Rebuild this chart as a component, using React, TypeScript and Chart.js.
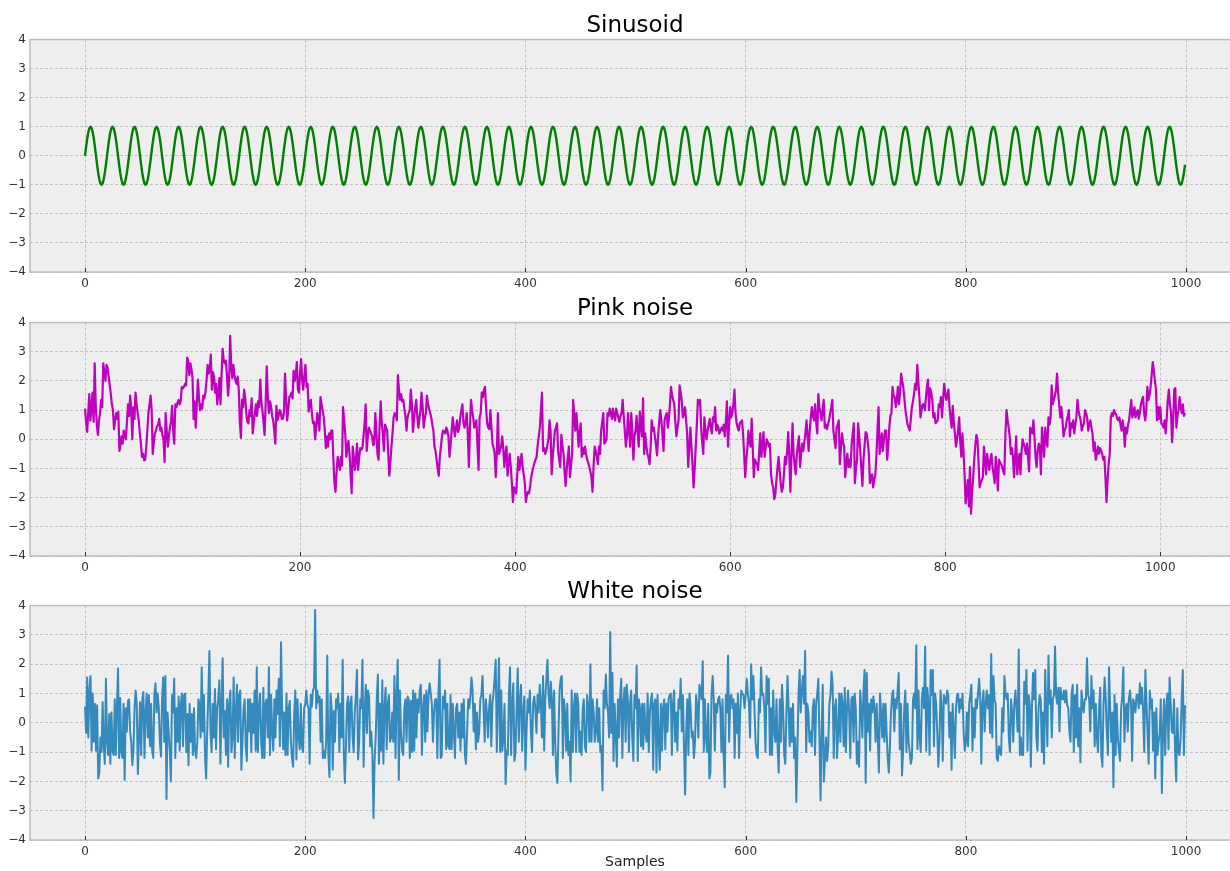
import React, { useEffect, useRef } from "react";
import { Chart, registerables } from "chart.js";

Chart.register(...registerables);

// ---------------- data ----------------
// one period (20 samples) of the sinusoid, repeated over 1000 samples
const sineCycle = [0, 0.309, 0.588, 0.809, 0.951, 1, 0.951, 0.809, 0.588, 0.309, 0, -0.309, -0.588, -0.809, -0.951, -1, -0.951, -0.809, -0.588, -0.309];
const sineCycleCount = 50;

const pinkNoise = [
  1.05,0.6,0.25,0.9,1.55,0.65,1.1,1.6,0.6,2.6,1.15,0.5,0.15,0.65,0.9,1.35,1.1,2.6,2.3,2.0,
  2.55,2.45,2.15,1.85,1.55,1.2,1.0,0.35,0.65,0.9,0.7,0.95,-0.4,-0.2,0.1,-0.15,0.3,0.1,0.0,0.6,
  1.2,0.8,1.5,1.0,0.0,1.1,0.7,1.6,1.2,0.9,0.65,0.2,-0.15,-0.6,-0.5,-0.72,-0.7,-0.25,0.3,0.9,
  1.2,1.5,1.0,-0.5,-0.1,0.2,0.3,0.45,0.5,0.7,0.3,0.4,0.15,0.0,-0.78,0.9,0.3,-0.25,0.1,0.4,
  0.6,1.15,0.3,-0.15,1.2,1.1,1.25,1.35,1.2,1.3,1.8,1.75,1.8,1.9,1.85,2.8,2.7,2.2,2.6,2.4,
  2.1,0.7,1.3,0.4,1.2,2.05,1.45,1.0,1.2,1.05,1.5,1.4,1.6,2.0,2.55,2.25,2.4,2.9,1.7,2.3,
  2.15,1.6,1.9,1.2,1.6,2.1,1.2,2.2,3.1,2.7,2.6,2.7,2.2,1.5,1.9,3.55,2.5,2.1,2.55,2.2,
  2.0,1.9,2.15,1.7,0.6,0.05,1.35,1.1,1.7,1.4,0.9,0.6,0.55,1.0,0.8,1.4,0.2,0.6,0.9,1.2,
  0.8,1.3,1.1,2.05,1.3,1.0,0.6,0.15,1.2,2.5,1.5,0.9,1.3,1.15,0.8,0.65,0.3,-0.15,1.15,0.65,
  0.8,1.0,0.95,0.7,0.7,0.9,2.25,1.4,0.65,1.0,1.45,1.5,1.6,1.4,2.35,2.0,2.2,2.65,1.7,1.6,
  2.3,2.75,2.0,1.7,2.2,2.55,1.8,1.9,0.95,1.2,1.35,0.9,0.55,0.6,0.0,0.4,0.9,0.65,0.3,1.45,
  1.2,1.0,0.75,0.3,-0.3,0.1,-0.25,0.2,0.0,0.3,0.3,-0.7,-1.5,-1.8,-1.1,-0.6,-0.8,-1.05,-0.6,-0.9,
  1.1,0.65,0.2,-0.6,-0.3,-0.05,-0.5,-1.2,-1.85,-0.25,-0.6,-1.05,-0.7,-0.15,-1.05,-0.6,-0.3,-0.35,-0.3,0.1,
  0.5,1.2,-0.4,0.1,0.4,0.3,0.2,0.1,-0.2,-0.15,0.9,0.3,-0.5,-0.7,0.5,1.3,0.55,0.2,-0.4,0.5,
  0.4,0.3,-0.5,-1.25,-0.8,-0.25,0.2,0.75,0.9,0.85,0.65,2.2,1.7,1.35,1.55,1.3,1.35,1.05,0.8,0.3,
  0.75,0.9,1.0,1.7,1.2,0.25,0.7,1.05,1.35,0.8,0.4,0.7,1.0,1.6,1.1,0.4,0.7,0.9,1.5,1.2,
  1.05,0.9,0.75,0.5,0.3,-0.25,-0.4,-0.7,-1.0,-1.25,-0.6,-0.25,0.1,0.3,0.25,0.2,0.4,0.3,0.1,-0.6,
  -0.2,0.3,0.75,0.4,0.1,0.4,0.65,0.25,0.4,0.75,1.0,1.2,0.55,0.4,0.6,0.9,0.2,-0.95,0.4,1.35,
  1.0,0.75,0.4,0.5,0.65,-0.2,-1.05,0.75,0.9,1.6,1.45,1.7,1.8,1.1,0.55,0.4,0.35,1.0,0.4,-0.15,
  -0.3,-0.5,-1.3,-0.4,0.9,-0.5,-0.4,-0.25,0.1,-0.3,-0.95,-0.5,-0.25,-1.25,-0.8,-0.5,-0.95,-1.5,-2.15,-1.65,
  -1.7,-1.85,-1.2,-0.6,-1.05,-0.8,-0.5,-0.95,-1.2,-1.5,-2.15,-1.9,-1.8,-1.85,-1.6,-1.3,-1.1,-0.95,-0.8,-0.7,
  -0.6,-0.2,0.1,0.4,1.0,1.6,-0.4,-0.3,-0.5,-0.4,-0.2,0.0,0.65,0.3,-1.2,-0.6,-0.15,0.3,0.4,0.55,
  -0.4,-0.7,-0.95,0.15,-0.2,-0.5,-1.1,-1.6,-1.05,-0.6,-0.25,-1.3,-0.9,-0.5,1.35,0.8,0.3,0.9,0.4,-0.25,
  0.2,0.55,-0.6,-0.3,-0.5,-0.25,-0.5,-0.7,-0.8,-0.95,-1.1,-1.3,-1.8,-0.9,-0.25,-0.4,-0.6,-0.85,-0.25,-0.5,
  0.3,0.6,0.9,-0.15,-0.1,0.0,0.9,0.8,1.05,0.9,0.7,1.05,0.8,0.65,1.05,0.9,0.75,0.6,0.8,0.9,
  1.35,0.8,0.3,-0.25,0.1,0.9,0.3,-0.25,0.9,0.3,-0.7,0.1,0.3,0.8,0.2,-0.25,0.95,0.5,0.1,1.4,
  -0.5,0.2,-0.2,-0.5,-0.6,-0.85,-0.3,0.65,0.3,0.4,0.1,-0.2,-0.55,0.1,0.6,1.0,0.65,0.2,-0.4,0.65,
  0.8,0.9,0.4,0.7,1.2,1.8,1.5,1.35,1.2,0.6,0.1,0.4,0.65,1.85,1.6,1.3,0.75,0.9,1.1,0.65,
  0.2,-0.95,-0.3,0.4,-0.25,-0.9,-1.65,-1.0,-0.25,0.5,1.35,1.2,1.35,0.4,-0.1,-0.5,0.75,0.3,0.0,0.3,
  0.5,0.7,0.4,0.2,0.75,0.6,1.1,0.3,0.5,0.4,0.2,0.3,0.4,0.3,0.5,0.1,0.6,1.3,-0.25,0.5,
  1.1,0.75,0.9,1.2,1.7,0.9,0.55,0.4,0.3,0.55,0.6,0.65,0.2,-0.5,-1.3,-0.7,-0.3,0.3,-0.1,-0.25,
  0.7,-0.3,-1.3,-0.7,-0.8,-0.85,-1.05,-0.4,0.2,-0.6,-0.2,0.25,-0.6,-0.3,0.0,-0.1,-0.25,-0.15,-1.2,-1.5,
  -1.65,-2.05,-1.9,-1.4,-1.0,-0.6,-1.05,-1.5,-1.8,-1.65,-1.2,-0.6,-0.85,-0.4,0.25,-0.6,-1.8,-0.5,0.55,-0.5,
  -0.9,-1.2,-0.5,-0.2,0.1,-0.95,-0.5,-0.15,-0.4,-0.1,0.2,0.65,0.1,-0.4,0.3,0.75,1.1,0.8,0.65,1.2,
  0.6,0.2,1.55,1.1,0.9,0.65,1.0,1.35,0.4,0.5,0.35,0.5,0.65,0.9,1.1,1.35,0.3,0.0,-0.3,0.4,
  0.5,0.65,-0.85,-0.3,0.2,-0.1,-0.25,-1.3,-0.8,-0.5,-0.95,-0.7,-0.95,-0.15,0.2,0.55,-1.5,-1.0,-0.7,0.55,
  0.1,-0.4,-1.0,-1.6,-0.7,-0.2,0.25,0.2,-0.1,-0.5,-1.5,-1.3,-1.2,-1.65,-1.4,-1.2,-0.6,0.3,1.1,-0.5,
  -0.2,0.2,-0.4,0.0,0.3,0.3,-0.7,-0.25,0.4,0.8,0.9,1.8,1.5,1.45,1.1,1.35,1.8,1.2,1.6,2.25,
  2.0,1.8,1.4,1.0,0.75,0.5,0.4,0.3,0.7,1.1,1.3,1.55,1.9,1.7,2.55,2.0,1.45,0.75,1.0,1.2,
  1.2,1.0,1.4,1.8,2.05,1.0,1.75,1.6,1.35,0.75,0.9,0.55,0.6,0.65,1.2,1.1,1.45,0.75,1.3,1.9,
  1.6,1.35,1.5,1.7,1.1,0.7,0.4,1.15,0.6,0.2,-0.25,0.0,0.3,0.75,-0.1,-0.6,0.2,-0.4,-1.2,-2.2,
  -1.8,-1.4,-2.3,-0.95,-2.55,-1.8,-1.3,-0.7,-0.2,0.15,0.0,-0.8,-1.65,-1.5,-1.4,-1.3,-0.25,-0.7,-1.2,-0.5,
  -0.8,-1.05,-0.7,-0.5,-0.95,-1.2,-1.5,-0.6,-1.1,-1.75,-0.7,-0.8,-0.85,-0.95,-1.1,-1.2,0.2,1.0,0.65,0.4,
  0.1,-0.5,-0.3,-0.6,-1.3,-0.6,0.1,-1.2,-0.8,-0.5,-1.2,-0.4,0.0,-0.15,-0.3,-0.5,-0.15,-0.6,-1.1,0.4,
  0.3,0.2,0.65,0.1,-0.6,-0.95,-0.4,-0.15,-0.25,-1.2,0.4,-0.1,-0.6,0.4,0.0,-0.25,0.75,0.5,0.75,1.85,
  1.2,1.35,1.5,1.7,2.25,1.6,1.2,0.75,1.1,0.7,0.1,0.3,0.4,0.65,0.8,1.0,0.1,0.55,0.4,0.65,
  0.2,0.5,0.75,1.35,1.0,0.8,0.65,0.3,0.45,0.55,1.0,0.9,0.75,0.3,0.5,0.65,0.4,0.2,-0.4,-0.1,
  -0.7,-0.5,-0.25,-0.5,-0.3,-0.4,-0.5,-0.7,-0.6,-1.3,-2.15,-1.4,-0.85,-0.5,0.75,0.9,0.8,1.0,0.9,0.85,
  0.7,0.65,0.75,0.5,0.3,0.65,0.4,-0.25,0.4,0.2,0.5,0.65,1.0,1.35,0.75,0.9,1.1,0.75,0.9,1.0,
  0.7,0.9,1.2,1.35,1.45,0.9,0.65,1.0,1.8,1.35,1.5,1.8,2.2,2.65,2.35,2.0,1.7,0.65,1.1,0.7,
  1.1,0.55,0.5,0.4,0.65,0.2,0.7,1.35,1.7,1.2,0.9,-0.1,0.6,1.7,1.75,0.4,0.8,1.0,1.45,1.1,
  0.9,1.2,0.8,0.9,
];

const whiteNoise = [
  0.55,-0.35,1.55,-0.5,1.1,1.6,-0.95,1.0,-0.65,0.65,-0.95,0.6,-1.9,-1.7,-0.5,-1.0,0.7,-0.8,-1.4,1.5,
  -0.65,-1.1,0.3,-1.4,0.35,-0.95,-1.1,0.8,-1.1,0.5,1.85,-1.2,0.85,-1.0,-1.2,0.65,-1.95,0.5,-0.3,0.75,
  0.8,-0.3,-0.65,-1.45,-0.95,0.5,1.1,0.65,-1.75,-0.5,0.7,-1.1,0.8,1.05,-1.2,0.35,1.0,-0.5,0.95,-0.8,
  0.65,-0.95,-1.2,0.95,1.35,0.35,1.0,0.5,-0.65,-1.15,0.8,1.55,-0.65,1.6,-2.6,0.35,-0.35,-0.95,-2.0,0.95,
  0.35,1.5,-1.2,0.5,-0.65,0.9,-0.95,0.65,1.0,-0.8,0.95,1.0,-1.0,0.3,-1.45,0.65,-0.65,0.3,-1.1,0.5,
  -0.95,-1.2,-0.65,0.8,0.65,-0.5,1.9,-0.3,0.95,-1.1,-1.9,-0.3,0.95,2.45,-0.3,-1.0,0.65,-0.5,1.15,-0.9,
  0.5,0.8,1.45,-1.4,0.65,2.2,-0.5,0.4,-1.1,0.8,-1.5,0.65,1.1,-1.0,-0.5,1.55,-1.2,0.35,1.3,-0.65,
  0.95,1.1,-1.6,-0.65,0.5,0.8,-0.8,-1.3,0.8,-0.3,0.8,-1.0,0.65,-0.35,1.1,-0.95,1.9,-1.0,0.5,1.0,
  -0.65,-1.2,1.2,-1.2,0.65,0.8,-0.5,1.9,-1.1,0.95,-0.3,-0.95,0.8,-0.5,1.1,0.3,1.5,-0.8,2.75,0.5,
  -0.9,0.35,-1.1,1.0,-1.1,0.5,0.75,-0.65,-1.2,-1.5,0.3,1.1,-1.25,0.8,-0.5,-0.9,0.65,-0.8,-1.0,0.5,
  0.65,1.1,0.6,0.5,-1.4,0.95,0.55,1.1,1.2,3.85,0.5,1.1,0.7,0.9,-0.65,0.8,-1.2,-0.95,-1.2,-0.65,
  2.3,-1.1,-1.85,1.0,0.5,-1.6,0.4,-0.65,0.8,0.5,1.0,-1.0,0.65,-0.5,2.15,-0.95,-2.05,-0.8,0.65,0.9,
  -1.0,0.65,0.9,-0.5,-1.0,0.35,0.95,1.8,-1.25,-0.65,0.8,0.5,2.15,-1.5,0.35,1.3,-0.35,1.1,0.9,-0.8,
  -0.3,-1.1,-3.25,-1.3,-0.5,0.8,1.65,-1.4,0.65,-0.95,1.45,-1.4,0.5,1.2,-0.9,0.65,0.95,-0.65,-0.5,0.35,
  -0.65,1.6,-1.2,0.95,2.15,-1.95,1.1,-0.35,-0.95,-1.1,0.5,0.8,-0.65,0.9,0.8,-1.2,0.75,-1.0,1.1,-0.95,
  1.0,-0.5,0.8,0.35,1.1,1.3,-1.1,0.5,0.95,-0.65,1.1,-0.3,0.95,1.35,1.0,0.65,-0.65,0.35,0.8,0.8,
  -1.2,0.95,2.15,-1.2,-1.15,0.9,0.5,1.1,-0.9,0.65,-0.8,-0.9,0.95,-0.9,0.65,-0.3,-1.2,0.5,0.65,-0.5,
  0.35,-0.95,0.65,-0.5,0.8,-1.1,-1.4,-0.3,0.8,0.5,0.9,1.55,1.1,-0.3,0.65,-0.9,0.35,-0.65,-0.3,0.8,
  0.95,1.6,0.5,-0.65,0.8,0.35,-0.5,0.5,0.95,-0.8,0.65,1.0,1.5,2.15,-1.0,0.8,2.2,-1.0,1.1,-0.95,
  -0.5,0.65,-2.1,-0.95,-1.1,0.95,1.9,-1.1,0.65,1.35,-1.3,-1.0,0.5,1.85,-0.65,0.8,1.3,-0.95,0.35,0.9,
  -1.6,-0.3,0.8,0.35,1.1,-0.35,-1.0,0.65,0.9,0.5,-0.35,0.95,0.35,1.3,0.65,-0.5,1.6,-0.95,0.8,1.5,
  2.15,0.95,0.5,1.4,0.8,-1.1,1.1,-0.65,-1.7,-2.05,-0.3,1.1,1.5,1.6,-1.2,0.8,0.35,-0.95,0.65,-1.1,
  -0.65,-2.0,1.1,-1.0,0.5,1.0,-1.0,1.0,0.65,-1.0,-0.3,-1.1,0.5,0.8,-0.8,-1.0,0.95,0.5,-0.65,2.0,
  -0.65,0.8,0.35,-0.65,-0.3,0.8,-0.65,0.5,-1.0,-0.8,-2.3,1.1,0.5,1.65,0.65,0.35,-0.5,3.1,-0.35,1.7,
  -1.3,0.65,-0.3,-1.5,0.8,-0.5,0.9,1.5,-1.2,0.65,1.2,-0.65,1.3,0.8,-1.0,0.65,1.1,-0.5,-1.3,0.95,
  0.5,1.95,-1.3,0.8,0.5,-0.8,0.65,-0.9,0.65,-0.3,-0.65,1.0,-1.0,0.35,0.8,1.0,-1.6,0.65,0.8,-1.7,
  0.95,-0.5,-1.6,0.65,-0.95,0.5,0.8,-0.9,0.65,-0.3,0.8,0.95,1.0,-1.1,0.65,1.1,-0.65,0.35,-0.95,0.8,
  0.5,1.5,-0.3,0.95,-0.8,-2.45,-0.3,0.8,-1.1,1.0,0.5,-0.5,-0.3,-1.2,-0.65,0.95,0.5,-0.5,1.3,1.1,
  0.8,2.1,-1.0,0.8,-0.5,-1.0,0.65,-1.9,-1.7,0.95,1.6,0.8,-0.95,0.65,0.35,0.8,0.9,0.5,-1.0,0.8,
  -1.1,-2.2,0.95,0.35,2.3,-0.65,0.9,0.95,0.5,0.8,-1.2,0.65,-0.35,1.0,-1.2,0.35,1.1,1.0,0.95,0.5,
  0.95,1.5,1.0,0.65,-0.5,2.0,0.8,1.6,0.5,-0.65,-1.1,-1.2,0.8,0.35,1.9,0.95,1.0,0.5,-1.0,1.6,
  0.65,1.5,-1.1,0.5,-1.1,1.1,-0.3,-0.65,0.8,-0.8,-1.7,0.8,-0.65,1.3,0.5,-1.1,-1.4,0.35,1.6,0.5,
  -0.8,0.5,-0.65,0.65,-1.2,-0.5,-2.7,-0.95,0.95,1.8,0.35,1.1,1.6,0.65,2.45,-1.0,0.65,0.35,-0.65,-0.3,
  -0.8,0.5,0.8,-1.1,0.65,1.0,1.5,-0.5,-2.65,-0.35,1.3,-2.0,-1.2,-0.5,-1.3,-0.8,0.65,0.95,1.75,1.3,
  -1.2,0.5,0.8,-1.2,-0.3,1.0,-0.65,1.0,0.65,-0.8,1.2,-1.0,0.5,1.1,0.35,-1.2,0.8,0.9,-0.65,1.0,
  0.5,-1.4,-0.65,-1.5,1.1,0.5,-0.5,1.1,1.8,-2.05,1.7,-0.3,0.65,-0.95,0.8,0.35,0.9,0.5,-0.65,0.65,
  -0.5,-1.7,1.0,0.35,-0.5,0.65,-0.65,0.65,-0.3,-1.2,-1.7,-0.8,0.35,0.95,1.1,-0.3,0.8,0.5,1.1,1.7,
  -0.9,0.65,-1.8,-0.95,0.5,1.1,-1.0,0.65,-0.65,-1.0,-1.4,-1.2,0.8,1.0,0.5,2.65,-0.9,1.1,-0.5,-1.0,
  0.8,1.2,0.5,2.6,-0.95,1.2,0.65,-1.1,1.8,0.95,1.8,-0.8,1.0,0.65,-0.3,-1.5,-0.65,1.1,0.5,-1.3,
  0.95,0.8,0.65,1.1,0.95,-0.5,0.35,-1.6,0.65,-0.3,-1.2,0.5,0.95,1.0,0.35,0.8,0.5,1.0,-0.35,-0.95,
  -0.65,0.35,-0.8,0.65,0.95,1.3,-0.95,0.5,-0.5,0.8,0.5,1.0,1.5,0.9,-1.4,0.65,1.1,-0.3,0.65,1.1,
  0.5,0.95,-0.35,2.35,-0.5,1.6,0.8,0.65,-1.2,-1.3,-0.8,-1.0,-1.1,0.5,-0.3,1.6,1.0,0.8,1.0,-0.5,
  -1.0,0.8,0.35,-0.65,0.65,1.1,0.5,-0.3,2.5,-1.1,-0.5,-1.1,-1.1,1.4,0.65,1.8,-0.95,0.95,0.65,-1.5,
  0.5,1.7,0.8,1.8,-0.5,-0.95,0.5,0.95,0.8,-1.0,0.35,-1.4,1.8,0.5,-0.8,2.3,0.65,1.1,-0.5,0.8,
  0.95,2.6,0.9,0.65,1.2,-0.3,1.2,0.8,0.8,1.1,0.7,1.1,0.6,0.5,-0.3,-0.65,0.95,1.3,-1.0,0.95,
  -0.5,1.3,-0.8,0.5,-1.35,1.1,0.65,0.35,0.8,0.8,2.2,0.95,0.8,-0.3,1.6,0.5,1.1,-0.8,0.65,-0.5,
  -1.0,0.5,1.2,-1.1,-1.5,0.65,1.55,0.8,-0.35,-1.1,1.9,0.5,-0.65,0.35,-2.2,0.95,-1.1,0.65,-0.5,-0.95,
  -1.3,0.5,0.9,1.9,-0.65,0.5,0.65,-0.3,0.8,1.1,0.65,-1.3,0.8,0.65,0.35,0.95,0.95,0.5,1.35,0.65,
  1.2,0.35,-1.0,1.8,0.65,-0.3,-1.4,1.1,0.5,0.8,-0.95,0.35,-1.9,0.5,-1.1,-0.65,-0.35,0.8,-2.4,-0.3,
  0.8,-1.1,0.5,1.0,-0.9,1.55,0.65,-0.3,-0.35,0.8,-0.95,-2.0,0.5,-1.0,-1.1,-0.5,0.8,1.8,-1.1,0.6,
];

const xTickValues = [0, 200, 400, 600, 800, 1000];
const yTickValues = [-4, -3, -2, -1, 0, 1, 2, 3, 4];
const plotTitles = ["Sinusoid", "Pink noise", "White noise"];
const xAxisLabel = "Samples";

const sinusoid: number[] = [];
for (let c = 0; c < sineCycleCount; c++) sinusoid.push(...sineCycle);

// ---------------- drawing helpers ----------------
const FONT = "'DejaVu Sans', 'Liberation Sans', sans-serif";

const framePlugin = {
  id: "bmhFrame",
  beforeDraw(chart: any) {
    const { ctx, chartArea: a } = chart;
    ctx.save();
    ctx.fillStyle = "#eeeeee";
    ctx.fillRect(a.left, a.top, a.right - a.left, a.bottom - a.top);
    ctx.restore();
  },
  afterDraw(chart: any) {
    const { ctx, chartArea: a, scales } = chart;
    ctx.save();
    ctx.strokeStyle = "#bcbcbc";
    ctx.lineWidth = 1.5;
    ctx.strokeRect(a.left, a.top, a.right - a.left, a.bottom - a.top);
    ctx.strokeStyle = "#333333";
    ctx.lineWidth = 1;
    for (const t of xTickValues) {
      const px = Math.round(scales.x.getPixelForValue(t)) + 0.5;
      ctx.beginPath();
      ctx.moveTo(px, a.bottom);
      ctx.lineTo(px, a.bottom - 4);
      ctx.stroke();
    }
    ctx.restore();
  },
};

const fmt = (v: any) => String(v).replace("-", "\u2212");

type PlotSpec = {
  values: number[];
  color: string;
  width: number;
  title: string;
  xMin: number;
  xMax: number;
  xAxisHeight: number;
  xTitle?: string;
};

function makeChart(canvas: HTMLCanvasElement, spec: PlotSpec) {
  return new Chart(canvas, {
    type: "line",
    data: {
      datasets: [
        {
          data: spec.values.map((y, i) => ({ x: i, y })),
          borderColor: spec.color,
          borderWidth: spec.width,
          borderJoinStyle: "round",
          pointRadius: 0,
          tension: 0,
          fill: false,
        },
      ],
    },
    options: {
      animation: false,
      responsive: false,
      devicePixelRatio: 1,
      parsing: false,
      normalized: true,
      layout: { padding: { left: 0, right: 0, top: 0, bottom: 0 } },
      plugins: {
        legend: { display: false },
        tooltip: { enabled: false },
        title: {
          display: true,
          fullSize: false,
          text: spec.title,
          color: "#000000",
          font: { family: FONT, size: 23, weight: "normal" },
          padding: { top: 12, bottom: 0 },
        },
      },
      scales: {
        x: {
          type: "linear",
          min: spec.xMin,
          max: spec.xMax,
          afterBuildTicks: (s: any) => {
            s.ticks = xTickValues.map((v) => ({ value: v }));
          },
          afterFit: (s: any) => {
            s.height = spec.xAxisHeight;
          },
          grid: { color: "#c2c2c2", lineWidth: 1, drawTicks: false },
          border: { display: false, dash: [3, 2] },
          ticks: { color: "#333333", font: { family: FONT, size: 12 }, padding: 5, callback: fmt },
          title: spec.xTitle
            ? { display: true, text: spec.xTitle, color: "#222222", font: { family: FONT, size: 14 }, padding: { top: 0, bottom: 0 } }
            : { display: false },
        },
        y: {
          type: "linear",
          min: -4,
          max: 4,
          afterBuildTicks: (s: any) => {
            s.ticks = yTickValues.map((v) => ({ value: v }));
          },
          afterFit: (s: any) => {
            s.width = 30;
          },
          grid: { color: "#c2c2c2", lineWidth: 1, drawTicks: false },
          border: { display: false, dash: [3, 2] },
          ticks: { color: "#333333", font: { family: FONT, size: 12 }, padding: 4, callback: fmt },
        },
      },
    } as any,
    plugins: [framePlugin],
  });
}

function Plot({ top, height, spec }: { top: number; height: number; spec: PlotSpec }) {
  const ref = useRef<HTMLCanvasElement | null>(null);
  useEffect(() => {
    if (!ref.current) return;
    const chart = makeChart(ref.current, spec);
    return () => chart.destroy();
  }, []);
  return (
    <canvas
      ref={ref}
      width={1240}
      height={height}
      style={{ position: "absolute", left: 0, top, width: 1240, height, display: "block" }}
    />
  );
}

export default function App() {
  return (
    <div
      style={{
        position: "fixed",
        left: 0,
        top: 0,
        width: 1230,
        height: 871,
        overflow: "hidden",
        background: "#ffffff",
      }}
    >
      <Plot
        top={0}
        height={300}
        spec={{ values: sinusoid, color: "#008000", width: 2.4, title: plotTitles[0], xMin: -49.95, xMax: 1048.95, xAxisHeight: 28 }}
      />
      <Plot
        top={283}
        height={301}
        spec={{ values: pinkNoise, color: "#bf00bf", width: 2.2, title: plotTitles[1], xMin: -51.15, xMax: 1074.15, xAxisHeight: 28 }}
      />
      <Plot
        top={566}
        height={305}
        spec={{
          values: whiteNoise,
          color: "#348abd",
          width: 2,
          title: plotTitles[2],
          xMin: -49.95,
          xMax: 1048.95,
          xAxisHeight: 31,
          xTitle: xAxisLabel,
        }}
      />
    </div>
  );
}
